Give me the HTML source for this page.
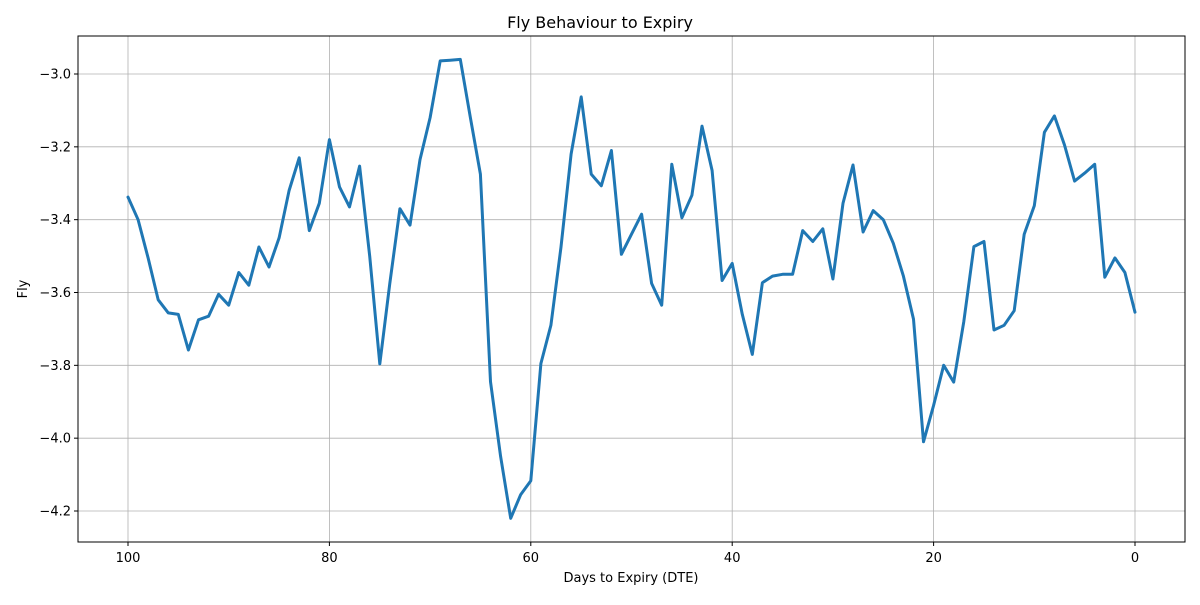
<!DOCTYPE html>
<html><head><meta charset="utf-8"><style>
body{margin:0;background:#fff;font-family:"Liberation Sans","DejaVu Sans",sans-serif}
svg text{font-family:"DejaVu Sans","Liberation Sans",sans-serif}
</style></head><body>
<svg id="chart" width="1200" height="600">
<rect width="1200" height="600" fill="#fff"/>
<g id="grid"></g>
<g id="ticks"></g>
<path id="line" fill="none" stroke="#1f77b4" stroke-width="3" stroke-linejoin="round" stroke-linecap="round"/>
<rect x="78" y="36" width="1107" height="506" fill="none" stroke="#000" stroke-width="1"/>
<text x="600" y="28" font-size="16" text-anchor="middle">Fly Behaviour to Expiry</text>
<text x="631" y="582" font-size="13" text-anchor="middle">Days to Expiry (DTE)</text>
<text x="27" y="289" font-size="13" text-anchor="middle" transform="rotate(-90 27 289)">Fly</text>
</svg>
<script>
const days=[];for(let d=100;d>=0;d--)days.push(d);
const flyValues=[-3.338,-3.40,-3.505,-3.62,-3.656,-3.66,-3.758,-3.675,-3.665,-3.605,-3.635,-3.545,-3.58,-3.475,-3.53,-3.45,-3.32,-3.23,-3.43,-3.355,-3.18,-3.31,-3.365,-3.253,-3.50,-3.796,-3.575,-3.37,-3.415,-3.235,-3.12,-2.964,-2.962,-2.96,-3.12,-3.275,-3.845,-4.05,-4.22,-4.155,-4.117,-3.795,-3.69,-3.475,-3.22,-3.063,-3.275,-3.307,-3.21,-3.495,-3.44,-3.385,-3.575,-3.635,-3.248,-3.395,-3.333,-3.143,-3.265,-3.567,-3.52,-3.66,-3.77,-3.573,-3.555,-3.55,-3.55,-3.43,-3.46,-3.425,-3.563,-3.355,-3.25,-3.434,-3.375,-3.40,-3.465,-3.555,-3.673,-4.01,-3.91,-3.80,-3.846,-3.68,-3.474,-3.46,-3.703,-3.69,-3.65,-3.44,-3.362,-3.16,-3.115,-3.195,-3.294,-3.272,-3.248,-3.558,-3.505,-3.545,-3.654];
const xTicks=[100,80,60,40,20,0];
const yTicks=[-3.0,-3.2,-3.4,-3.6,-3.8,-4.0,-4.2];
const X=d=>128+(100-d)*10.07;
const Y=v=>74+(-3.0-v)*364.17;
const NS="http://www.w3.org/2000/svg";
const g=document.getElementById('grid'),t=document.getElementById('ticks');
function mk(tag,attrs,parent){const e=document.createElementNS(NS,tag);for(const k in attrs)e.setAttribute(k,attrs[k]);parent.appendChild(e);return e;}
xTicks.forEach(d=>{const x=X(d);
const l=mk('line',{x1:x,x2:x,y1:36,y2:542,stroke:'#b0b0b0','stroke-width':0.8},g);


mk('line',{x1:x,x2:x,y1:542,y2:546,stroke:'#000'},t);
const tx=mk('text',{x:x,y:562,'font-size':13,'text-anchor':'middle'},t);tx.textContent=d;

});
yTicks.forEach(v=>{const y=Y(v);
const l=mk('line',{x1:78,x2:1185,y1:y,y2:y,stroke:'#b0b0b0','stroke-width':0.8},g);


mk('line',{x1:74,x2:78,y1:y,y2:y,stroke:'#000'},t);
const tx=mk('text',{x:71,y:y+4.5,'font-size':13,'text-anchor':'end'},t);tx.textContent='\u2212'+Math.abs(v).toFixed(1);

});
document.getElementById('line').setAttribute('d',days.map((d,i)=>(i?'L':'M')+X(d).toFixed(1)+' '+Y(flyValues[i]).toFixed(1)).join(' '));
</script>
</body></html>
